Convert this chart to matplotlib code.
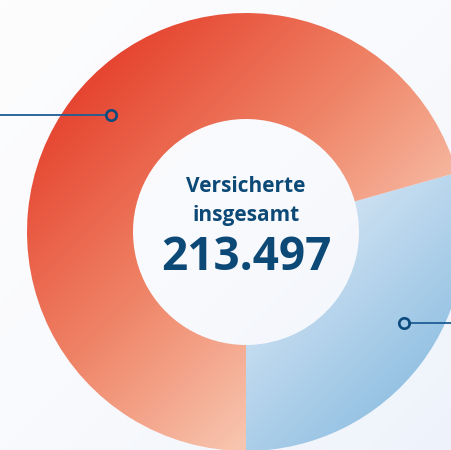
import numpy as np
import matplotlib.pyplot as plt
from matplotlib.colors import LinearSegmentedColormap

# data
labels = ['Gruppe B', 'Gruppe A']
values = [62700, 150797]
total_label = '213.497'
title_lines = ['Versicherte', 'insgesamt']

W, H = 452, 450
cx, cy = 246, 450 - 232
r_out, r_in = 219, 113

fig = plt.figure(figsize=(W / 100, H / 100), dpi=100)
ax = fig.add_axes([0, 0, 1, 1])

# background gradient
yy, xx = np.mgrid[0:H, 0:W]
tt = (xx + yy) / (W + H)
bg = LinearSegmentedColormap.from_list('bg', ['#fdfdfe', '#f9fafd', '#eef3fb'])
ax.imshow(tt, cmap=bg, extent=(0, W, 0, H), origin='upper', zorder=0)

wedges, _ = ax.pie(values, center=(cx, cy), radius=r_out, startangle=-90,
                   counterclock=True, wedgeprops=dict(width=r_out - r_in, linewidth=0))

# diagonal gradient inside each wedge
grad = ((xx - 27) + (yy - 13)) / 876.0
cmaps = [
    LinearSegmentedColormap.from_list('b', [(0, '#eef4fb'), (0.5, '#dde9f6'), (0.9, '#8dbee1'), (1, '#82b7de')]),
    LinearSegmentedColormap.from_list('r', [(0, '#e23625'), (0.12, '#e5402c'), (0.45, '#ef8467'), (0.75, '#f8c8b2'), (1, '#fbd9c8')]),
]
for w, cm in zip(wedges, cmaps):
    w.set_facecolor('none')
    im = ax.imshow(np.clip(grad, 0, 1), cmap=cm, vmin=0, vmax=1,
                   extent=(0, W, 0, H), origin='upper', zorder=1)
    im.set_clip_path(w)

# leader lines with hollow markers
line_c = '#1d5d95'
ax.plot([0, 106], [H - 115, H - 115], color=line_c, lw=1.3, zorder=3)
ax.plot([409, W], [H - 323, H - 323], color=line_c, lw=1.3, zorder=3)
ax.plot([111, 404], [H - 115, H - 323], ls='none', marker='o', ms=7.5,
        mfc='none', mec='#0b4a7c', mew=1.9, zorder=4)

txt_c = '#0c4977'
ax.text(cx, H - 186, title_lines[0], ha='center', va='center', fontsize=15,
        fontweight='bold', family='Open Sans', color=txt_c, zorder=5)
ax.text(cx, H - 216, title_lines[1], ha='center', va='center', fontsize=15,
        fontweight='bold', family='Open Sans', color=txt_c, zorder=5)
ax.text(cx, H - 258, total_label, ha='center', va='center', fontsize=33,
        fontweight='bold', family='Open Sans', color=txt_c, zorder=5)

ax.set_xlim(0, W)
ax.set_ylim(0, H)
ax.set_aspect('auto')
ax.axis('off')
fig.savefig('out.png', dpi=100)
